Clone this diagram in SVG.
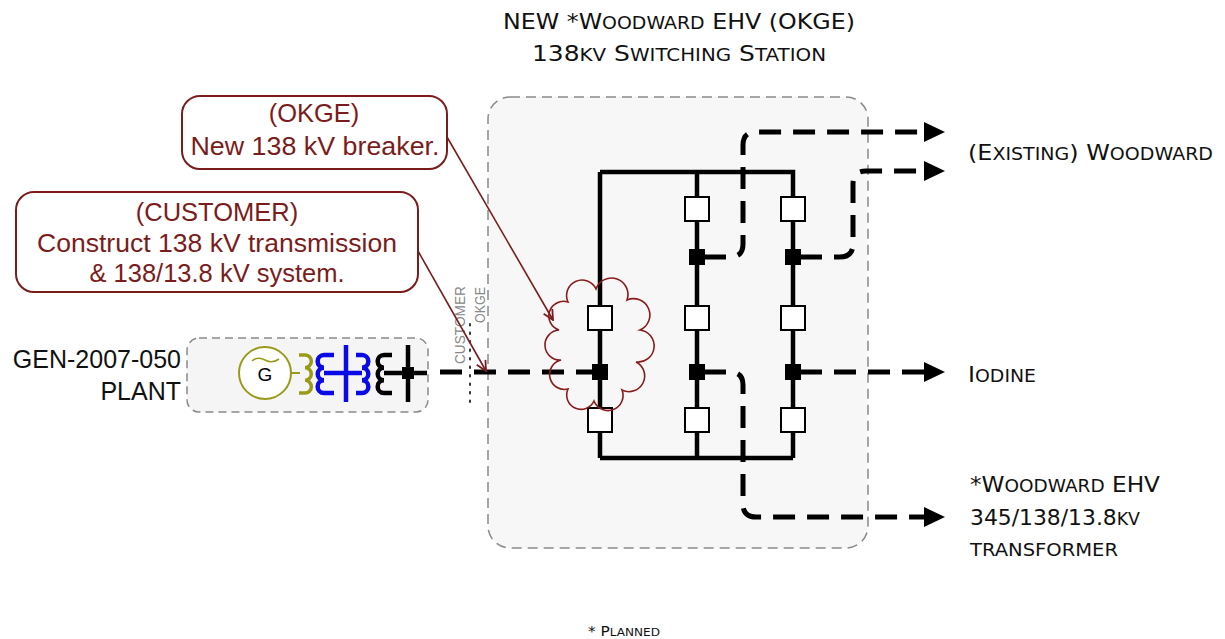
<svg xmlns="http://www.w3.org/2000/svg" width="1225" height="639" viewBox="0 0 1225 639">
<style>
.cad{font-family:"DejaVu Sans","Liberation Sans",sans-serif;fill:#111;font-size:22px}
.sc{font-size:17.5px}
.call{font-family:"Liberation Sans",Arial,sans-serif;fill:#7b1c1c;font-size:25.5px;text-anchor:middle}
.callbox{fill:#fff;stroke:#7b1c1c;stroke-width:2}
.bus{stroke:#000;stroke-width:4.5;fill:none}
.dash{stroke:#000;stroke-width:5;fill:none;stroke-dasharray:22 12}
.brk{fill:#fff;stroke:#000;stroke-width:2}
.jn{fill:#000}
.gray{font-family:"Liberation Sans",Arial,sans-serif;fill:#888;font-size:14px}
</style>
<defs>
<marker id="open" viewBox="0 0 12 12" refX="11" refY="6" markerWidth="12" markerHeight="12" markerUnits="userSpaceOnUse" orient="auto">
<path d="M1,1 L11,6 L1,11" fill="none" stroke="#7b1c1c" stroke-width="1.8"/>
</marker>
</defs>
<rect width="1225" height="639" fill="#fff"/>

<g id="station">
<rect x="488" y="97" width="380" height="451" rx="22" fill="#f7f7f7" stroke="#8a8a8a" stroke-width="1.5" stroke-dasharray="10 6"/>
<text class="cad" x="503" y="29" textLength="352" lengthAdjust="spacingAndGlyphs">NEW *W<tspan class="sc">OODWARD</tspan> EHV (OKGE)</text>
<text class="cad" x="532" y="61" textLength="294" lengthAdjust="spacingAndGlyphs">138<tspan class="sc">KV</tspan> S<tspan class="sc">WITCHING</tspan> S<tspan class="sc">TATION</tspan></text>
</g>

<g id="plant">
<rect x="187" y="338" width="241" height="74" rx="12" fill="#f5f5f5" stroke="#8a8a8a" stroke-width="1.5" stroke-dasharray="8 5"/>
<text font-family="Liberation Sans,Arial,sans-serif" font-size="25" fill="#111" text-anchor="end" x="181" y="368">GEN-2007-050</text>
<text font-family="Liberation Sans,Arial,sans-serif" font-size="25" fill="#111" text-anchor="end" x="181" y="400">PLANT</text>
<circle cx="265" cy="373" r="26" fill="#fff" stroke="#9a9a1a" stroke-width="2"/>
<path d="M252 361 Q258 356 265 360 Q272 364 279 359" fill="none" stroke="#9a9a1a" stroke-width="1.6"/>
<text font-family="Liberation Sans,Arial,sans-serif" font-size="19" fill="#000" text-anchor="middle" x="265" y="381">G</text>
<line x1="291" y1="373" x2="300" y2="373" stroke="#9a9a1a" stroke-width="2"/>
<path d="M299 355 H305 A6.3 6.3 0 0 1 305 367.7 A6.3 6.3 0 0 1 305 380.3 A6.3 6.3 0 0 1 305 393 H299" fill="none" stroke="#9a9a1a" stroke-width="3.5"/>
<path d="M334 355 H324 A6.3 6.3 0 0 0 324 367.7 A6.3 6.3 0 0 0 324 380.3 A6.3 6.3 0 0 0 324 393 H334" fill="none" stroke="#0a0ae6" stroke-width="4.5"/>
<line x1="346" y1="345" x2="346" y2="402" stroke="#0a0ae6" stroke-width="4.5"/>
<line x1="324" y1="373" x2="362" y2="373" stroke="#0a0ae6" stroke-width="4.5"/>
<path d="M356 355 H362 A6.3 6.3 0 0 1 362 367.7 A6.3 6.3 0 0 1 362 380.3 A6.3 6.3 0 0 1 362 393 H356" fill="none" stroke="#0a0ae6" stroke-width="4.5"/>
<path d="M392 355 H384 A6.3 6.3 0 0 0 384 367.7 A6.3 6.3 0 0 0 384 380.3 A6.3 6.3 0 0 0 384 393 H392" fill="none" stroke="#000" stroke-width="4.5"/>
<line x1="384" y1="373" x2="427" y2="373" stroke="#000" stroke-width="4.5"/>
<line x1="408" y1="345" x2="408" y2="402" stroke="#000" stroke-width="4.5"/>
<rect class="jn" x="402" y="367" width="12" height="12"/>
</g>

<g id="boundary">
<line x1="470" y1="324" x2="470" y2="402" stroke="#333" stroke-width="2" stroke-dasharray="1.5 7" stroke-linecap="round"/>
<text class="gray" transform="translate(465 364) rotate(-90)" textLength="78" lengthAdjust="spacingAndGlyphs">CUSTOMER</text>
<text class="gray" transform="translate(485 323) rotate(-90)" textLength="36" lengthAdjust="spacingAndGlyphs">OKGE</text>
</g>

<g id="connectors">
<path class="dash" d="M440 372 H600"/>
<path class="dash" d="M704 257 H730 Q743 257 743 244 V145 Q743 132 756 132 H925"/>
<path class="dash" d="M800 257 H840 Q853 257 853 244 V184 Q853 171 866 171 H925"/>
<path class="dash" d="M800 372 H925"/>
<path class="dash" d="M704 372 H730 Q743 372 743 385 V504 Q743 517 756 517 H925"/>
<polygon points="924,122 945,132 924,142"/>
<polygon points="924,161 945,171 924,181"/>
<polygon points="924,362 945,372 924,382"/>
<polygon points="924,507 945,517 924,527"/>
<line x1="447" y1="137" x2="553" y2="320" stroke="#7b1c1c" stroke-width="1.6" marker-end="url(#open)"/>
<line x1="418" y1="251" x2="486" y2="371" stroke="#7b1c1c" stroke-width="1.6" marker-end="url(#open)"/>
</g>

<g id="bus">
<path class="bus" d="M600 172 V458 M600 172 H793 V458 M600 458 H793 M697 172 V458"/>
<rect class="brk" x="588" y="306" width="24" height="24"/>
<rect class="brk" x="588" y="408" width="24" height="24"/>
<rect class="brk" x="685" y="197" width="24" height="24"/>
<rect class="brk" x="685" y="306" width="24" height="24"/>
<rect class="brk" x="685" y="408" width="24" height="24"/>
<rect class="brk" x="781" y="197" width="24" height="24"/>
<rect class="brk" x="781" y="306" width="24" height="24"/>
<rect class="brk" x="781" y="408" width="24" height="24"/>
<rect class="jn" x="689" y="249" width="16" height="16"/>
<rect class="jn" x="785" y="249" width="16" height="16"/>
<rect class="jn" x="592" y="364" width="16" height="16"/>
<rect class="jn" x="689" y="364" width="16" height="16"/>
<rect class="jn" x="785" y="364" width="16" height="16"/>
</g>

<g id="cloud">
<path d="M568 302 A14 14 0 0 1 596 289 A14 14 0 0 1 627 300 A14 14 0 0 1 640 330 A14 14 0 0 1 636 362 A14 14 0 0 1 622 390 A14 14 0 0 1 594 401 A14 14 0 0 1 568 389 A14 14 0 0 1 561 360 A14 14 0 0 1 559 330 A14 14 0 0 1 568 302 Z" fill="none" stroke="#8b1a1a" stroke-width="1.6"/>
</g>

<g id="callout-okge">
<rect class="callbox" x="182" y="96" width="265" height="73" rx="18"/>
<text class="call" x="314" y="122">(OKGE)</text>
<text class="call" x="315" y="155" textLength="249" lengthAdjust="spacingAndGlyphs">New 138 kV breaker.</text>
</g>

<g id="callout-customer">
<rect class="callbox" x="16" y="192" width="402" height="100" rx="18"/>
<text class="call" x="217" y="221">(CUSTOMER)</text>
<text class="call" x="217" y="252" textLength="360" lengthAdjust="spacingAndGlyphs">Construct 138 kV transmission</text>
<text class="call" x="217" y="282">&amp; 138/13.8 kV system.</text>
</g>

<g id="labels">
<text class="cad" x="968" y="160" textLength="245" lengthAdjust="spacingAndGlyphs">(E<tspan class="sc">XISTING</tspan>) W<tspan class="sc">OODWARD</tspan></text>
<text class="cad" x="968" y="382" textLength="68" lengthAdjust="spacingAndGlyphs">I<tspan class="sc">ODINE</tspan></text>
<text class="cad" x="970" y="492" textLength="190" lengthAdjust="spacingAndGlyphs">*W<tspan class="sc">OODWARD</tspan> EHV</text>
<text class="cad" x="970" y="525" textLength="170" lengthAdjust="spacingAndGlyphs">345/138/13.8<tspan class="sc">KV</tspan></text>
<text class="cad sc" x="970" y="556" textLength="148" lengthAdjust="spacingAndGlyphs">TRANSFORMER</text>
<text class="cad" x="588" y="636" style="font-size:14px" textLength="72" lengthAdjust="spacingAndGlyphs">* P<tspan style="font-size:11px">LANNED</tspan></text>
</g>
</svg>
